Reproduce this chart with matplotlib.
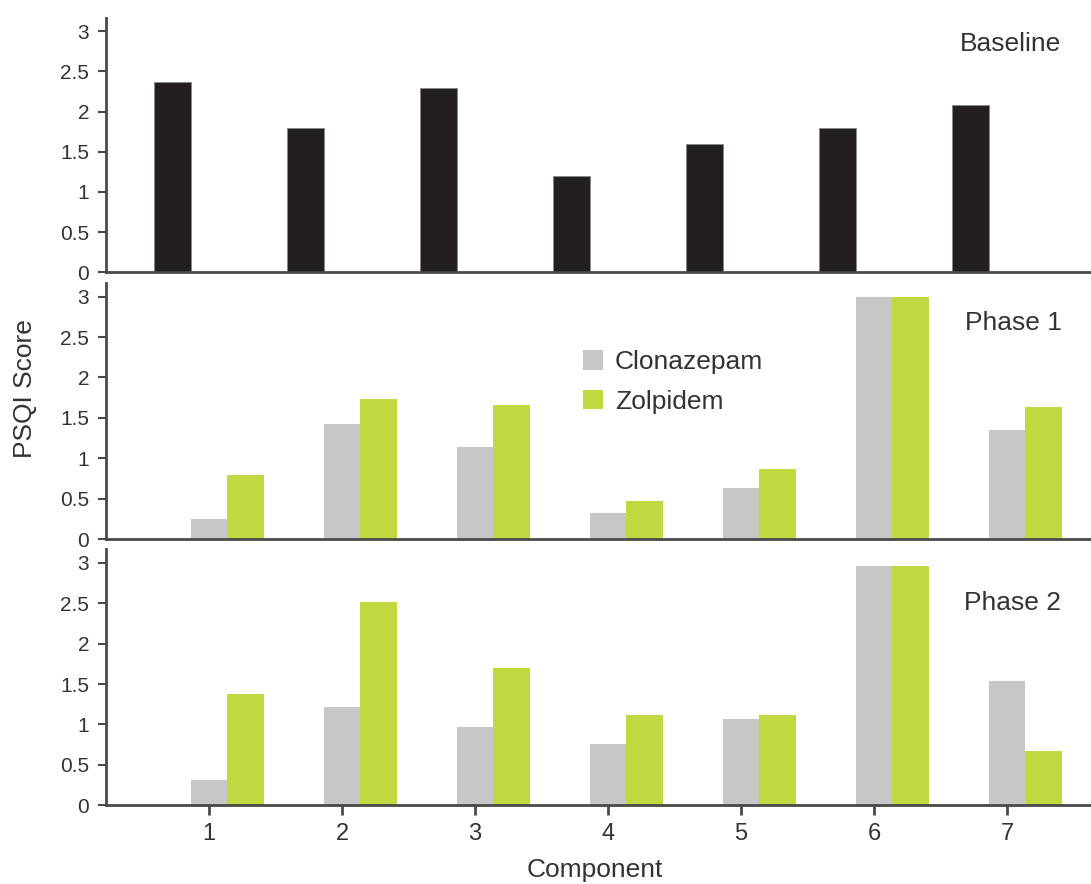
import matplotlib
matplotlib.use("Agg")
import matplotlib.pyplot as plt
import numpy as np

plt.rcParams["font.family"] = ["Liberation Sans", "DejaVu Sans"]

components = [1, 2, 3, 4, 5, 6, 7]
baseline = [2.37, 1.80, 2.29, 1.20, 1.60, 1.80, 2.08]
phase1_clonazepam = [0.25, 1.42, 1.14, 0.32, 0.63, 3.00, 1.35]
phase1_zolpidem = [0.80, 1.73, 1.66, 0.47, 0.87, 3.00, 1.64]
phase2_clonazepam = [0.31, 1.21, 0.97, 0.76, 1.07, 2.96, 1.54]
phase2_zolpidem = [1.38, 2.52, 1.70, 1.12, 1.12, 2.96, 0.67]
y_ticks = [0, 0.5, 1, 1.5, 2, 2.5, 3]
y_tick_labels = ["0", "0.5", "1", "1.5", "2", "2.5", "3"]

BLACK = "#231f20"
GRAY = "#c6c7c9"
GREEN = "#c2d840"
SPINE = "#4a4a4a"
TEXT = "#333333"

x = np.array(components, dtype=float)
w = 0.275

fig = plt.figure(figsize=(10.91, 8.84), dpi=100)
left = 0.097
width = 1.0 - left
ax1 = fig.add_axes([left, 0.692, width, 0.288])
ax2 = fig.add_axes([left, 0.390, width, 0.290])
ax3 = fig.add_axes([left, 0.089, width, 0.290])

ax1.bar(x - w, baseline, width=w, color=BLACK, edgecolor="#888888", linewidth=0.6)
ax2.bar(x, phase1_clonazepam, width=w, color=GRAY, label="Clonazepam")
ax2.bar(x + w, phase1_zolpidem, width=w, color=GREEN, label="Zolpidem")
ax3.bar(x, phase2_clonazepam, width=w, color=GRAY)
ax3.bar(x + w, phase2_zolpidem, width=w, color=GREEN)

# panel titles sit at slightly different heights in the original
titles = [(ax1, "Baseline", 0.898), (ax2, "Phase 1", 0.842), (ax3, "Phase 2", 0.79)]
for ax, title, ty in titles:
    ax.set_xlim(0.225, 7.63)
    ax.set_ylim(0, 3.17)
    ax.set_yticks(y_ticks)
    ax.set_yticklabels(y_tick_labels)
    for s in ["top", "right"]:
        ax.spines[s].set_visible(False)
    for s in ["left", "bottom"]:
        ax.spines[s].set_color(SPINE)
        ax.spines[s].set_linewidth(2)
    ax.tick_params(axis="y", direction="out", length=6, width=1.5,
                   color=SPINE, labelsize=15, labelcolor=TEXT, pad=6)
    ax.text(0.97, ty, title, transform=ax.transAxes, ha="right", va="center",
            fontsize=19, color=TEXT)

for ax in (ax1, ax2):
    ax.set_xticks([])

ax3.set_xticks(components)
ax3.set_xticklabels([str(c) for c in components])
ax3.tick_params(axis="x", direction="out", length=7, width=2, color=SPINE,
                labelsize=17, labelcolor=TEXT, pad=6)

ax2.legend(loc="upper left", bbox_to_anchor=(0.46, 0.83), frameon=False,
           fontsize=19, handlelength=0.77, handleheight=0.77,
           handletextpad=0.45, labelspacing=0.58, labelcolor=TEXT)

fig.text(0.023, 0.56, "PSQI Score", rotation=90, ha="center", va="center",
         fontsize=19, color=TEXT)
fig.text(0.545, 0.002, "Component", ha="center", va="bottom",
         fontsize=19, color=TEXT)

fig.savefig("out.png", dpi=100)
